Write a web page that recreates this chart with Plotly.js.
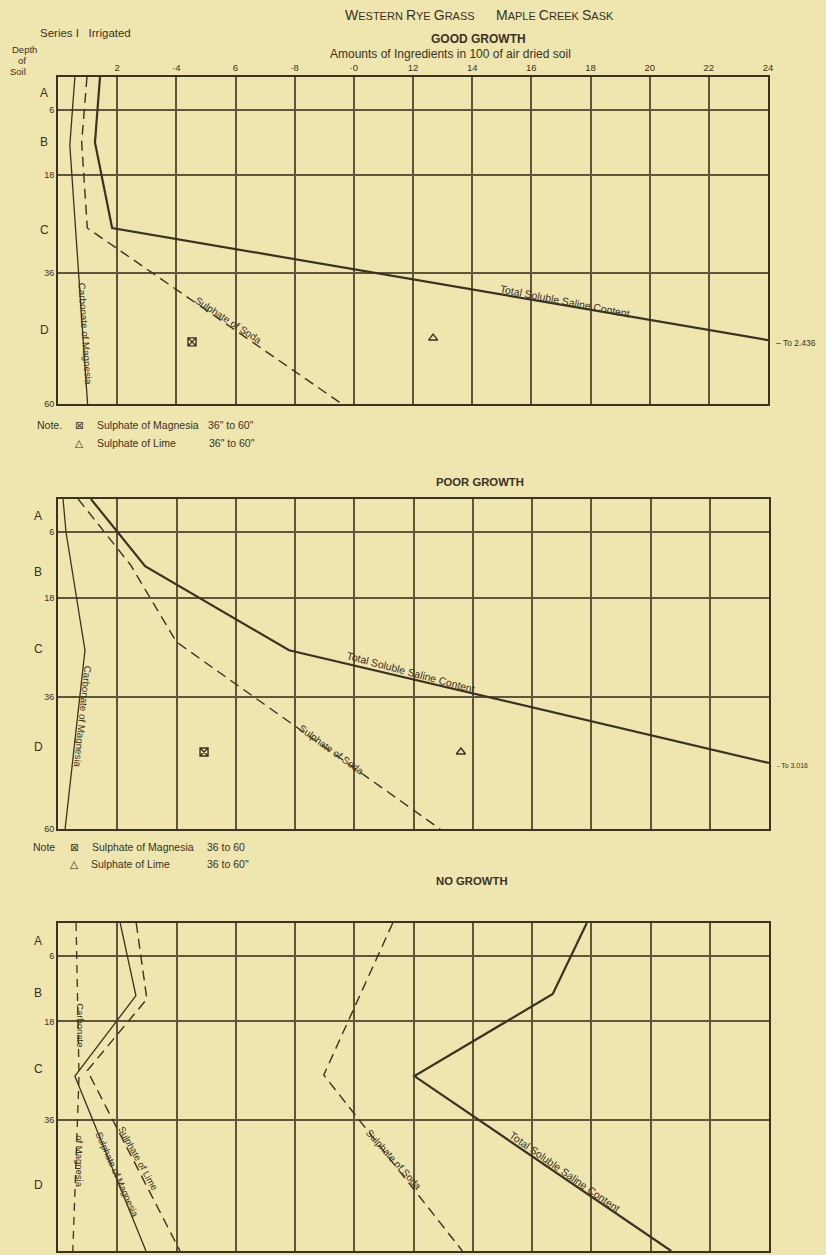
<!DOCTYPE html>
<html><head><meta charset="utf-8">
<script src="https://cdn.plot.ly/plotly-3.0.1.min.js"></script>
<style>html,body{margin:0;padding:0;background:#EEE5AF;}#chart{width:826px;height:1255px;}</style>
</head><body><div id="chart"></div>
<script>
// ---------- shared scales / tick labels ----------
const xTickVals = [0.2, 0.4, 0.6, 0.8, 1.0, 1.2, 1.4, 1.6, 1.8, 2.0, 2.2, 2.4];
const xTickText = ['2', '·4', '6', '·8', '·0', '12', '14', '16', '18', '20', '22', '24'];
const depthTickVals = [6, 18, 36, 60];
const depthTickText = ['6', '18', '36', '60'];
const horizonLabels = ['A', 'B', 'C', 'D'];

// ---------- GOOD GROWTH ----------
const goodTotalDepth = [0, 12, 27.7, 48.6];
const goodTotalValue = [0.142, 0.125, 0.183, 2.436];
const goodSodaDepth = [0, 12, 27.7, 60];
const goodSodaValue = [0.098, 0.080, 0.099, 0.96];
const goodCarbDepth = [0, 12.5, 60];
const goodCarbValue = [0.057, 0.040, 0.100];
const goodMgSulphate = {x: [0.453], depth: [48.6]};
const goodLimeSulphate = {x: [1.268], depth: [47.9]};
const goodTotalNote = 'To 2.436';
const goodHorizonDepth = [2.9, 12, 28, 46.4];

// ---------- POOR GROWTH ----------
const poorTotalDepth = [0, 12.2, 27.5, 48];
const poorTotalValue = [0.111, 0.294, 0.78, 2.4];
const poorSodaDepth = [0, 12, 26, 60];
const poorSodaValue = [0.068, 0.245, 0.40, 1.29];
const poorCarbDepth = [0, 6, 27.5, 60];
const poorCarbValue = [0.017, 0.027, 0.091, 0.024];
const poorMgSulphate = {x: [0.493], depth: [46]};
const poorLimeSulphate = {x: [1.36], depth: [46]};
const poorTotalNote = 'To 3.016';
const poorHorizonDepth = [3.1, 13.2, 27.3, 45];

// ---------- NO GROWTH ----------
const noTotalDepth = [0, 13, 28, 60];
const noTotalValue = [1.785, 1.67, 1.203, 2.07];
const noSodaDepth = [0, 27.8, 60];
const noSodaValue = [1.13, 0.897, 1.365];
const noLimeDepth = [0, 13.9, 27, 60];
const noLimeValue = [0.264, 0.30, 0.099, 0.412];
const noMgDepth = [0, 13.3, 28, 60];
const noMgValue = [0.21, 0.263, 0.057, 0.297];
const noCarbDepth = [0, 28, 60];
const noCarbValue = [0.061, 0.071, 0.05];
const noHorizonDepth = [3.3, 12.8, 26.7, 48];

// ---------- styling ----------
const ink = '#3a3222';
const gridInk = '#5e553c';
const bg = '#EEE5AF';
const FONT = 'Liberation Sans, DejaVu Sans, sans-serif';
const W = 826, H = 1255;
const px = v => v / W;
const py = v => 1 - v / H;

function line(xs, ys, ax, width, dash) {
  return {type: 'scatter', mode: 'lines', x: xs, y: ys, xaxis: ax[0], yaxis: ax[1],
    line: {color: ink, width: width, dash: dash || 'solid'}, hoverinfo: 'skip'};
}
function marker(obj, ax, symbol, size) {
  return {type: 'scatter', mode: 'markers', x: obj.x, y: obj.depth, xaxis: ax[0], yaxis: ax[1],
    marker: {symbol: symbol, size: size, color: ink, line: {color: ink, width: 1.4}}, hoverinfo: 'skip'};
}

const A1 = ['x', 'y'], A2 = ['x2', 'y2'], A3 = ['x3', 'y3'];
const DASH = '10px,6px';

const traces = [
  line(goodTotalValue, goodTotalDepth, A1, 2.2),
  line(goodSodaValue, goodSodaDepth, A1, 1.4, DASH),
  line(goodCarbValue, goodCarbDepth, A1, 1.3),
  marker(goodMgSulphate, A1, 'square-x-open', 8),
  marker(goodLimeSulphate, A1, 'triangle-up-open', 8),

  line(poorTotalValue, poorTotalDepth, A2, 2.2),
  line(poorSodaValue, poorSodaDepth, A2, 1.4, DASH),
  line(poorCarbValue, poorCarbDepth, A2, 1.3),
  marker(poorMgSulphate, A2, 'square-x-open', 8),
  marker(poorLimeSulphate, A2, 'triangle-up-open', 8),

  line(noTotalValue, noTotalDepth, A3, 2.2),
  line(noSodaValue, noSodaDepth, A3, 1.4, DASH),
  line(noLimeValue, noLimeDepth, A3, 1.4, DASH),
  line(noMgValue, noMgDepth, A3, 1.3),
  line(noCarbValue, noCarbDepth, A3, 1.3, '8px,6px')
];

function xAxis(domain, anchor, showLabels) {
  return {domain: domain, anchor: anchor, range: [0, 2.4], tickvals: xTickVals, ticktext: xTickText,
    side: 'top', showticklabels: showLabels, ticks: '', showgrid: true, gridcolor: gridInk, gridwidth: 2,
    zeroline: false, showline: true, mirror: true, linecolor: ink, linewidth: 2,
    tickfont: {family: FONT, size: 9.5, color: ink}, fixedrange: true};
}
function yAxis(domain, anchor) {
  return {domain: domain, anchor: anchor, range: [60, 0], tickvals: depthTickVals, ticktext: depthTickText,
    ticks: '', showgrid: true, gridcolor: gridInk, gridwidth: 2, zeroline: false, showline: true, mirror: true,
    linecolor: ink, linewidth: 2, tickfont: {family: FONT, size: 9, color: ink}, fixedrange: true};
}

const ann = [];
function t(text, x, y, opts) {
  ann.push(Object.assign({text: text, x: x, y: y, xref: 'paper', yref: 'paper', showarrow: false,
    xanchor: 'left', yanchor: 'middle', font: {family: FONT, size: 10, color: ink}}, opts || {}));
}
function d(text, x, y, xr, yr, angle, size) {
  ann.push({text: text, x: x, y: y, xref: xr, yref: yr, showarrow: false, textangle: angle,
    xanchor: 'center', yanchor: 'middle', font: {family: FONT, size: size || 10, color: ink}});
}

// headers
const cap = s => '<span style="font-size:14px">' + s + '</span>';
t(cap('W') + 'ESTERN ' + cap('R') + 'YE ' + cap('G') + 'RASS', px(343), py(15), {font: {family: FONT, size: 11, color: ink}});
t(cap('M') + 'APLE ' + cap('C') + 'REEK ' + cap('S') + 'ASK', px(494), py(15), {font: {family: FONT, size: 11, color: ink}});
t('Series I&nbsp;&nbsp;&nbsp;Irrigated', px(38), py(33), {font: {family: FONT, size: 11.5, color: ink}});
t('<b>GOOD GROWTH</b>', px(478), py(39), {xanchor: 'center', font: {family: FONT, size: 12, color: ink}});
t('Amounts of Ingredients in 100 of air dried soil', px(328), py(54), {font: {family: FONT, size: 12, color: ink}});
t('Depth', px(24), py(50), {xanchor: 'center', font: {family: FONT, size: 9.5, color: ink}});
t('of', px(22), py(61), {xanchor: 'center', font: {family: FONT, size: 9.5, color: ink}});
t('Soil', px(18), py(72), {xanchor: 'center', font: {family: FONT, size: 9.5, color: ink}});
t('<b>POOR GROWTH</b>', px(480), py(482), {xanchor: 'center', font: {family: FONT, size: 11.3, color: ink}});
t('<b>NO GROWTH</b>', px(472), py(881), {xanchor: 'center', font: {family: FONT, size: 11.3, color: ink}});

// notes
const noteFont = {family: FONT, size: 10.5, color: ink};
t('Note.', px(35), py(425), {font: noteFont});
t('⊠', px(73), py(425), {font: noteFont});
t('Sulphate of Magnesia', px(95), py(425), {font: noteFont});
t('36" to 60"', px(206), py(425), {font: noteFont});
t('△', px(73), py(443), {font: noteFont});
t('Sulphate of Lime', px(95), py(443), {font: noteFont});
t('36" to 60"', px(207), py(443), {font: noteFont});

t('Note', px(31), py(847), {font: noteFont});
t('⊠', px(68), py(847), {font: noteFont});
t('Sulphate of Magnesia', px(90), py(847), {font: noteFont});
t('36 to 60', px(205), py(847), {font: noteFont});
t('△', px(68), py(864), {font: noteFont});
t('Sulphate of Lime', px(89), py(864), {font: noteFont});
t('36 to 60"', px(205), py(864), {font: noteFont});

// beyond-scale notes
t('– ' + goodTotalNote, px(774), py(343), {font: {family: FONT, size: 8.5, color: ink}});
t('- ' + poorTotalNote, px(775), py(765), {font: {family: FONT, size: 7, color: ink}});

// horizon letters
const hFont = 12;
horizonLabels.forEach((h, i) => {
  ann.push({text: h, x: px(44), y: goodHorizonDepth[i], xref: 'paper', yref: 'y', showarrow: false,
    xanchor: 'center', yanchor: 'middle', font: {family: FONT, size: hFont, color: ink}});
  ann.push({text: h, x: px(38), y: poorHorizonDepth[i], xref: 'paper', yref: 'y2', showarrow: false,
    xanchor: 'center', yanchor: 'middle', font: {family: FONT, size: hFont, color: ink}});
  ann.push({text: h, x: px(38), y: noHorizonDepth[i], xref: 'paper', yref: 'y3', showarrow: false,
    xanchor: 'center', yanchor: 'middle', font: {family: FONT, size: hFont, color: ink}});
});

// line labels
d('Carbonate of Magnesia', 0.093, 47, 'x', 'y', 86, 9.8);
d('Sulphate of Soda', 0.578, 44.6, 'x', 'y', 33, 10);
d('Total Soluble Saline Content', 1.714, 41.1, 'x', 'y', 11, 10.5);

d('Carbonate of Magnesia', 0.082, 39.6, 'x2', 'y2', 96, 9.8);
d('Sulphate of Soda', 0.922, 45.5, 'x2', 'y2', 36, 10);
d('Total Soluble Saline Content', 1.19, 31.4, 'x2', 'y2', 15, 10.5);

d('Carbonate', 0.076, 18.6, 'x3', 'y3', 90, 9.5);
d('of Magnesia', 0.073, 43.5, 'x3', 'y3', 90, 9.5);
d('Sulphate of Magnesia', 0.200, 46, 'x3', 'y3', 66, 9.5);
d('Sulphate of Lime', 0.272, 43.0, 'x3', 'y3', 61, 9.5);
d('Sulphate of Soda', 1.133, 43.3, 'x3', 'y3', 48, 10);
d('Total Soluble Saline Content', 1.713, 45.5, 'x3', 'y3', 35, 10.5);

const layout = {
  width: W, height: H, margin: {l: 0, r: 0, t: 0, b: 0},
  paper_bgcolor: bg, plot_bgcolor: bg, showlegend: false,
  xaxis: xAxis([px(58), px(768)], 'y', true),
  yaxis: yAxis([py(404), py(77)], 'x'),
  xaxis2: xAxis([px(58), px(769)], 'y2', false),
  yaxis2: yAxis([py(829), py(499)], 'x2'),
  xaxis3: xAxis([px(58), px(769)], 'y3', false),
  yaxis3: yAxis([py(1251), py(923)], 'x3'),
  annotations: ann
};

Plotly.newPlot('chart', traces, layout, {displayModeBar: false});
</script></body></html>
